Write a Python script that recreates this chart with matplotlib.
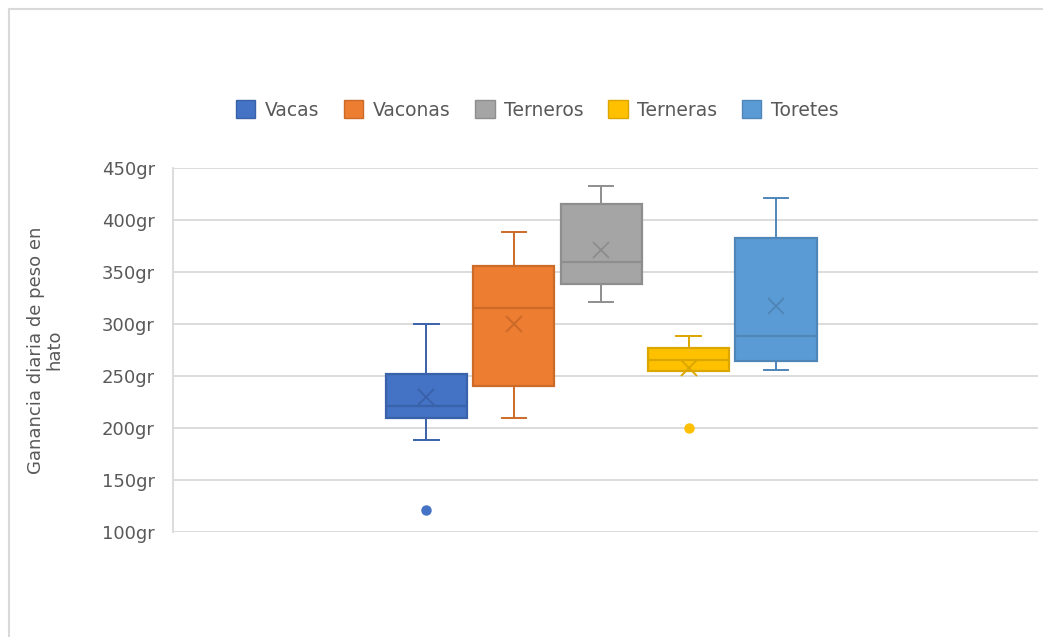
import matplotlib
matplotlib.use("Agg")
import matplotlib.pyplot as plt
from matplotlib.patches import Patch

# ---- data ----
series = ["Vacas", "Vaconas", "Terneros", "Terneras", "Toretes"]
whisker_low = [188.5, 210, 321, 255, 255.6]
q1 = [209.5, 240.4, 338.4, 255.2, 264.9]
medians = [221, 315.5, 359.6, 265.4, 289]
q3 = [252, 355.7, 415.4, 276.7, 383.2]
whisker_high = [300, 388.4, 432.7, 288.5, 421]
means = [230, 300, 371.4, 258.2, 317.5]
outliers = [[121], [], [], [200], []]
y_ticks = [100, 150, 200, 250, 300, 350, 400, 450]

fill_colors = ["#4472C4", "#ED7D31", "#A5A5A5", "#FFC000", "#5B9BD5"]
edge_colors = ["#3A62AA", "#CC6A28", "#8E8E8E", "#DBA600", "#4E86B8"]

plt.rcParams['font.family'] = ['DejaVu Sans']

fig = plt.figure(figsize=(10.43, 6.37), dpi=100)
# outer chart border (left/top visible)
fig.add_artist(plt.Rectangle((9/1043, -0.1), 1.2, 1 - 9/637 + 0.1,
                             transform=fig.transFigure, fill=False,
                             edgecolor="#D9D9D9", lw=1.5))

ax = fig.add_axes([173/1043, 1 - 532/637, (1038 - 173)/1043, (532 - 168.3)/637])

positions = [-2, -1, 0, 1, 2]
for i, name in enumerate(series):
    st = [dict(whislo=whisker_low[i], q1=q1[i], med=medians[i], q3=q3[i],
               whishi=whisker_high[i], mean=means[i], fliers=outliers[i], label=name)]
    ec = edge_colors[i]
    ax.bxp(st, positions=[positions[i]], widths=0.93, patch_artist=True,
           showmeans=True, showfliers=True, manage_ticks=False,
           boxprops=dict(facecolor=fill_colors[i], edgecolor=ec, linewidth=1.6),
           medianprops=dict(color=ec, linewidth=1.6),
           whiskerprops=dict(color=ec, linewidth=1.4),
           capprops=dict(color=ec, linewidth=1.4),
           capwidths=0.28,
           meanprops=dict(marker='x', markeredgecolor=ec, markersize=12,
                          markeredgewidth=1.4),
           flierprops=dict(marker='o', markerfacecolor=fill_colors[i],
                           markeredgecolor=fill_colors[i], markersize=6.5))

ax.set_xlim(-4.9, 5.0)
ax.set_ylim(100, 450)
ax.set_yticks(y_ticks)
ax.set_yticklabels([f"{v}gr" for v in y_ticks])
ax.set_xticks([])
ax.yaxis.grid(True, color="#D9D9D9", linewidth=1.3)
ax.set_axisbelow(True)
for s in ["top", "right", "bottom"]:
    ax.spines[s].set_visible(False)
ax.spines["left"].set_color("#D9D9D9")
ax.spines["left"].set_linewidth(1.3)
ax.tick_params(axis='y', length=0, pad=13, labelsize=13, labelcolor="#595959")

fig.text(45/1043, 1 - 350/637, "Ganancia diaria de peso en\nhato", rotation=90,
         ha="center", va="center", fontsize=13, color="#595959",
         multialignment="center", linespacing=1.0)

handles = [Patch(facecolor=fill_colors[i], edgecolor=edge_colors[i], label=series[i])
           for i in range(5)]
fig.legend(handles=handles, loc="center", bbox_to_anchor=(537/1043, 1 - 110/637),
           ncol=5, frameon=False, fontsize=13.5, handlelength=1.05, handleheight=1.05,
           handletextpad=0.5, columnspacing=1.3, labelcolor="#595959")

fig.savefig("out.png", dpi=100)
